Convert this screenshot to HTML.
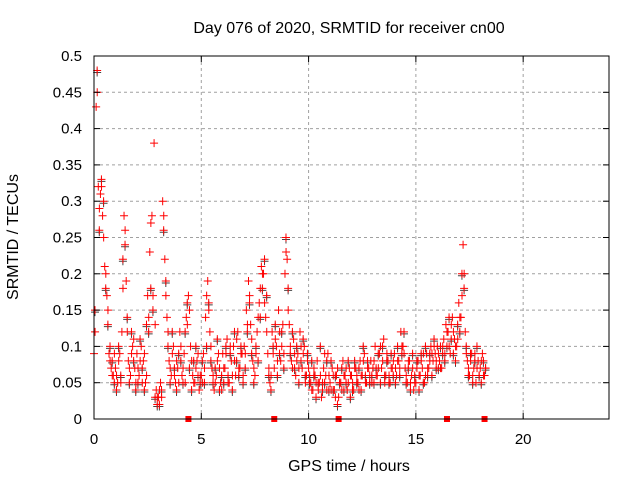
<!DOCTYPE html>
<html><head><meta charset="utf-8"><style>
html,body{margin:0;padding:0;background:#fff}
svg{display:block;font-family:"Liberation Sans",sans-serif}
</style></head><body>
<svg id="chart" width="640" height="480" viewBox="0 0 640 480" xmlns="http://www.w3.org/2000/svg">
<rect width="640" height="480" fill="#fff"/>
<text x="349" y="33" font-size="16" text-anchor="middle">Day 076 of 2020, SRMTID for receiver cn00</text>
<text x="349" y="471" font-size="16" text-anchor="middle">GPS time / hours</text>
<text x="18" y="237" font-size="16" text-anchor="middle" transform="rotate(-90 18 237)">SRMTID / TECUs</text>
<g id="grid"></g>
<g id="marks"></g>
<g id="axes"></g>
</svg>
<script>
const times = [0.0,0.1,0.2,0.3,0.4,0.5,0.6,0.7,0.8,0.9,1.0,1.1,1.2,1.3,1.4,1.5,1.6,1.7,1.8,1.9,2.0,2.1,2.2,2.3,2.4,2.5,2.6,2.7,2.8,2.9,3.0,3.1,3.2,3.3,3.4,3.5,3.6,3.7,3.8,3.9,4.0,4.1,4.2,4.3,4.4,4.5,4.6,4.7,4.8,4.9,5.0,5.1,5.2,5.3,5.4,5.5,5.6,5.7,5.8,5.9,6.0,6.1,6.2,6.3,6.4,6.5,6.6,6.7,6.8,6.9,7.0,7.1,7.2,7.3,7.4,7.5,7.6,7.7,7.8,7.9,8.0,8.1,8.2,8.3,8.4,8.5,8.6,8.7,8.8,8.9,9.0,9.1,9.2,9.3,9.4,9.5,9.6,9.7,9.8,9.9,10.0,10.1,10.2,10.3,10.4,10.5,10.6,10.7,10.8,10.9,11.0,11.1,11.2,11.3,11.4,11.5,11.6,11.7,11.8,11.9,12.0,12.1,12.2,12.3,12.4,12.5,12.6,12.7,12.8,12.9,13.0,13.1,13.2,13.3,13.4,13.5,13.6,13.7,13.8,13.9,14.0,14.1,14.2,14.3,14.4,14.5,14.6,14.7,14.8,14.9,15.0,15.1,15.2,15.3,15.4,15.5,15.6,15.7,15.8,15.9,16.0,16.1,16.2,16.3,16.4,16.5,16.6,16.7,16.8,16.9,17.0,17.1,17.2,17.3,17.4,17.5,17.6,17.7,17.8,17.9,18.0,18.1,18.2];
const seriesA = [.09,.43,.32,.31,.28,.21,.17,.09,.07,.06,
.07,.05,.09,.12,.28,.19,.08,.06,.1,.07,
.09,.06,.1,.08,.05,.17,.23,.28,.38,.04,
.03,.05,.3,.22,.14,.08,.06,.1,.05,.07,
.12,.06,.09,.14,.17,.1,.06,.05,.08,.04,
.06,.09,.14,.19,.12,.07,.04,.06,.09,.05,
.09,.07,.11,.05,.08,.1,.06,.12,.07,.09,
.1,.15,.19,.13,.08,.06,.12,.16,.21,.2,
.14,.09,.05,.12,.07,.1,.15,.08,.13,.2,
.22,.13,.08,.11,.06,.09,.12,.07,.1,.06,
.07,.05,.04,.06,.08,.05,.03,.07,.06,.09,
.05,.07,.04,.06,.03,.05,.08,.06,.04,.07,
.06,.04,.07,.05,.08,.06,.09,.05,.07,.08,
.07,.1,.06,.09,.07,.11,.06,.08,.05,.07,
.09,.06,.08,.12,.1,.07,.05,.08,.06,.04,
.05,.08,.06,.07,.05,.09,.07,.1,.08,.09,
.1,.08,.07,.11,.13,.12,.09,.14,.11,.1,
.16,.14,.24,.12,.08,.06,.09,.07,.05,.08,
.07,.09,.06];
const seriesB = [.15,.48,.26,.33,.3,.18,.13,.1,.08,.05,
.04,.1,.06,.22,.24,.14,.05,.12,.08,.04,
.05,.11,.07,.04,.13,.12,.18,.15,.03,.02,
.02,.04,.26,.19,.1,.05,.12,.07,.04,.09,
.08,.05,.12,.16,.07,.04,.08,.1,.06,.05,
.08,.05,.1,.16,.08,.05,.07,.11,.04,.06,
.05,.1,.06,.09,.04,.12,.08,.06,.1,.05,
.07,.12,.16,.09,.05,.1,.08,.14,.18,.22,
.17,.06,.04,.1,.13,.06,.09,.12,.07,.25,
.18,.09,.12,.07,.1,.05,.08,.11,.06,.09,
.05,.08,.06,.03,.05,.1,.04,.05,.08,.04,
.08,.04,.06,.02,.05,.07,.04,.05,.08,.03,
.04,.08,.05,.07,.04,.1,.06,.08,.05,.06,
.05,.07,.09,.05,.1,.06,.08,.05,.09,.06,
.05,.1,.06,.09,.12,.05,.07,.04,.09,.06,
.08,.04,.09,.05,.1,.06,.09,.06,.11,.07,
.07,.1,.09,.08,.1,.14,.11,.09,.08,.13,
.12,.2,.18,.1,.06,.09,.05,.08,.1,.06,
.05,.08,.07];
const seriesC = [.12,.45,.29,.32,.25,.2,.15,.08,.06,.09,
.06,.08,.05,.18,.26,.12,.07,.09,.11,.05,
.07,.08,.05,.09,.06,.14,.27,.17,.13,.03,
.04,.03,.28,.17,.12,.07,.09,.06,.08,.05,
.1,.07,.05,.13,.15,.08,.05,.07,.09,.06,
.05,.07,.17,.15,.1,.06,.05,.08,.07,.04,
.07,.09,.05,.1,.06,.08,.11,.07,.09,.06,
.09,.13,.17,.11,.07,.09,.14,.18,.2,.16,
.12,.07,.06,.09,.11,.08,.12,.1,.09,.23,
.15,.1,.07,.09,.08,.07,.1,.09,.05,.08,
.06,.04,.07,.05,.04,.06,.05,.09,.04,.06,
.04,.06,.03,.07,.05,.04,.06,.07,.05,.06,
.05,.07,.06,.04,.06,.08,.05,.07,.06,.05,
.08,.06,.07,.1,.08,.05,.09,.06,.07,.08,
.07,.08,.07,.1,.09,.06,.08,.05,.07,.05,
.07,.06,.08,.09,.06,.07,.08,.09,.1,.08,
.09,.07,.1,.09,.12,.1,.13,.12,.1,.11,
.14,.17,.2,.09,.07,.08,.06,.09,.07,.06,
.08,.06,.07];
const seriesCOffset = 0.05;
const gapTimes = [4.4,8.4,11.4,16.45,18.2];
const yTicks = [0,0.05,0.1,0.15,0.2,0.25,0.3,0.35,0.4,0.45,0.5];
const yTickLabels = ["0","0.05","0.1","0.15","0.2","0.25","0.3","0.35","0.4","0.45","0.5"];
const xTicks = [0,5,10,15,20];
const xTickLabels = ["0","5","10","15","20"];

const L=94,R=609,T=56,B=419,XMAX=24,YMAX=0.5;
const xs=v=>L+(R-L)*v/XMAX;
const ys=v=>B-(B-T)*v/YMAX;
const NS="http://www.w3.org/2000/svg";
function mk(tag,attrs,parent){const e=document.createElementNS(NS,tag);for(const k in attrs)e.setAttribute(k,attrs[k]);parent.appendChild(e);return e;}
const grid=document.getElementById('grid'),marks=document.getElementById('marks'),axes=document.getElementById('axes');

yTicks.forEach((v,i)=>{
  if(v>0&&v<YMAX){const g=mk('line',{x1:L,x2:R,y1:ys(v),y2:ys(v),stroke:'#a0a0a0','stroke-dasharray':'3,3'},grid);
  
  }
  const t=mk('line',{x1:L,x2:L+6,y1:ys(v),y2:ys(v),stroke:'#000'},axes);
  
  
  const t2=mk('line',{x1:R,x2:R-6,y1:ys(v),y2:ys(v),stroke:'#000'},axes);
  
  
  const lb=mk('text',{x:82,y:ys(v)+5,'font-size':15,'text-anchor':'end'},axes);
  lb.textContent=yTickLabels[i];
  
  
});
xTicks.forEach((v,i)=>{
  if(v>0){const g=mk('line',{x1:xs(v),x2:xs(v),y1:T,y2:B,stroke:'#a0a0a0','stroke-dasharray':'3,3'},grid);
  
  }
  const t=mk('line',{x1:xs(v),x2:xs(v),y1:B,y2:B-6,stroke:'#000'},axes);
  
  
  const t2=mk('line',{x1:xs(v),x2:xs(v),y1:T,y2:T+6,stroke:'#000'},axes);
  
  
  const lb=mk('text',{x:xs(v),y:444,'font-size':15,'text-anchor':'middle'},axes);
  lb.textContent=xTickLabels[i];
  
  
});
const frame=mk('rect',{x:L,y:T,width:R-L,height:B-T,fill:'none',stroke:'#000'},axes);



function plus(x,y,col){
  const p=mk('path',{d:`M${x-4},${y}h8M${x},${y-4}v8`,stroke:col,'stroke-width':1,fill:'none'},marks);
  
  
}
times.forEach((t,i)=>{plus(xs(t)+1,ys(seriesB[i])+2,'#444');});
times.forEach((t,i)=>{plus(xs(t),ys(seriesA[i]),'#f00');plus(xs(t)+1,ys(seriesB[i]),'#f00');plus(xs(t+seriesCOffset),ys(seriesC[i]),'#f00');});
gapTimes.forEach(t=>{
  const r=mk('rect',{x:xs(t)-3,y:B-3,width:6,height:6,fill:'#f00'},marks);
  
  
});
</script>
</body></html>
